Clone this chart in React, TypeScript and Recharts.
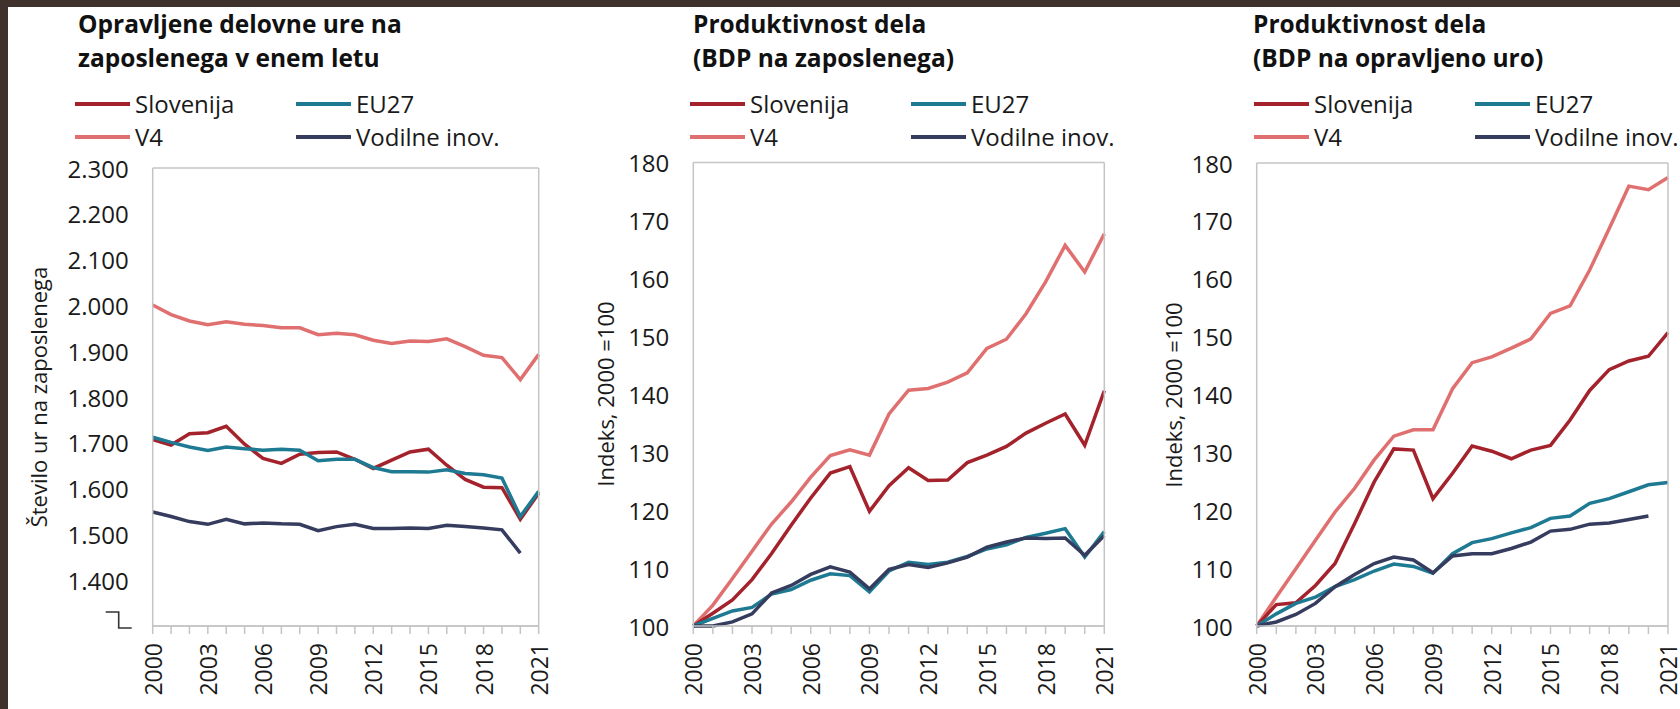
import React from 'react';
import { LineChart, Line, XAxis, YAxis, CartesianGrid } from 'recharts';

// years on the x axis
const years = [
  2000, 2001, 2002, 2003, 2004, 2005, 2006, 2007, 2008, 2009, 2010,
  2011, 2012, 2013, 2014, 2015, 2016, 2017, 2018, 2019, 2020, 2021,
];

// panel 1: opravljene ure na zaposlenega
const hoursSlovenija = [1707, 1695, 1720, 1722, 1736, 1697, 1666, 1655, 1675, 1679, 1680, 1664, 1644, 1662, 1680, 1686, 1651, 1620, 1603, 1602, 1533, 1590];
const hoursEU27 = [1712, 1701, 1691, 1683, 1691, 1687, 1684, 1686, 1684, 1661, 1664, 1664, 1646, 1637, 1637, 1636, 1641, 1633, 1630, 1623, 1539, 1594];
const hoursV4 = [2001, 1980, 1966, 1958, 1964, 1959, 1956, 1951, 1951, 1936, 1939, 1936, 1924, 1917, 1922, 1921, 1927, 1910, 1891, 1886, 1838, 1893];
const hoursLeaders = [1549, 1539, 1528, 1522, 1533, 1523, 1525, 1523, 1522, 1508, 1517, 1522, 1513, 1513, 1514, 1513, 1520, 1517, 1514, 1510, 1459, null];

// panel 2: BDP na zaposlenega, 2000 = 100
const perEmpSlovenija = [100, 102.2, 104.5, 108, 112.5, 117.4, 122.1, 126.4, 127.5, 119.8, 124.2, 127.3, 125.1, 125.2, 128.2, 129.5, 131, 133.3, 135, 136.6, 131.2, 140.6];
const perEmpEU27 = [100, 101.3, 102.6, 103.2, 105.5, 106.3, 107.9, 109, 108.7, 105.9, 109.5, 111, 110.6, 111, 112, 113.3, 114, 115.3, 116, 116.8, 111.9, 116.3];
const perEmpV4 = [100, 103.6, 108.2, 112.9, 117.6, 121.4, 125.7, 129.4, 130.4, 129.5, 136.6, 140.7, 141, 142.1, 143.7, 147.9, 149.5, 153.9, 159.4, 165.7, 161.1, 167.7];
const perEmpLeaders = [100, 100, 100.7, 102.1, 105.7, 107, 108.9, 110.2, 109.3, 106.4, 109.8, 110.6, 110.1, 110.9, 111.9, 113.6, 114.5, 115.2, 115.1, 115.2, 112.2, 115.6];

// panel 3: BDP na opravljeno uro, 2000 = 100
const perHourSlovenija = [100, 103.7, 104, 107, 110.8, 117.7, 124.9, 130.6, 130.4, 122, 126.4, 131.1, 130.2, 128.9, 130.4, 131.2, 135.6, 140.7, 144.3, 145.8, 146.6, 150.7];
const perHourEU27 = [100, 102.1, 103.9, 105, 106.8, 108, 109.5, 110.7, 110.3, 109.1, 112.5, 114.4, 115.1, 116.1, 117, 118.6, 119, 121.2, 122, 123.2, 124.4, 124.8];
const perHourV4 = [100, 105, 109.9, 114.8, 119.7, 123.8, 128.7, 132.8, 133.9, 133.9, 141, 145.5, 146.5, 148, 149.6, 154, 155.3, 161.5, 168.7, 176, 175.4, 177.5];
const perHourLeaders = [100, 100.7, 102, 103.9, 106.8, 108.9, 110.8, 111.9, 111.4, 109.2, 112.1, 112.5, 112.5, 113.4, 114.5, 116.4, 116.7, 117.6, 117.8, 118.4, 119, null];

const hoursTicks = [1300, 1400, 1500, 1600, 1700, 1800, 1900, 2000, 2100, 2200, 2300];
const indexTicks = [100, 110, 120, 130, 140, 150, 160, 170, 180];

const seriesNames = ['Slovenija', 'EU27', 'V4', 'Vodilne inov.'];
const seriesColors = ['#a3222b', '#1e7a92', '#e07070', '#363c5e'];
// order in which the lines are stacked on top of each other
const drawOrder = [2, 0, 1, 3];

const FONT = '"Open Sans", sans-serif';
const GRID = '#c4c4c4';
const TEXT = '#1a1a1a';
const PLOT_BOTTOM = 626;
const H = 709;

function buildRows(values: (number | null)[][]) {
  return years.map((year, i) => {
    const row: Record<string, number | null> = { year };
    values.forEach((v, s) => {
      row[`s${s}`] = v[i];
    });
    return row;
  });
}

const fmtThousands = (v: number) => {
  const s = String(v);
  return s.length > 3 ? `${s.slice(0, s.length - 3)}.${s.slice(s.length - 3)}` : s;
};

function YearTick(props: any) {
  const { x, y, payload } = props;
  if ((payload.value - 2000) % 3 !== 0) return null;
  return (
    <text
      x={x}
      y={y}
      transform={`rotate(-90, ${x}, ${y})`}
      textAnchor="end"
      dominantBaseline="central"
      fontFamily={FONT}
      fontSize={23}
      fill={TEXT}
    >
      {payload.value}
    </text>
  );
}

function makeValueTick(format: (v: number) => string, breakAt?: number) {
  return function ValueTick(props: any) {
    const { x, y, payload } = props;
    if (breakAt !== undefined && payload.value === breakAt) {
      return (
        <path
          d={`M${x - 23},${y - 14} H${x - 10} V${y + 2} H${x + 3}`}
          fill="none"
          stroke="#333"
          strokeWidth={1.6}
        />
      );
    }
    return (
      <text x={x} y={y} textAnchor="end" dominantBaseline="central" fontFamily={FONT} fontSize={24} fill={TEXT}>
        {format(payload.value)}
      </text>
    );
  };
}

function LegendGrid({ left }: { left: number }) {
  const order = [0, 1, 2, 3];
  return (
    <div
      style={{
        position: 'absolute',
        left,
        top: 87,
        display: 'grid',
        gridTemplateColumns: '221px 221px',
        fontFamily: FONT,
        fontSize: 24,
        color: TEXT,
      }}
    >
      {order.map(i => (
        <div key={i} style={{ display: 'flex', alignItems: 'center', height: 33, whiteSpace: 'nowrap' }}>
          <span style={{ display: 'inline-block', width: 55, height: 4, background: seriesColors[i], marginRight: 5 }} />
          <span>{seriesNames[i]}</span>
        </div>
      ))}
    </div>
  );
}

interface PanelProps {
  left: number;
  width: number;
  plotLeft: number;
  plotRight: number;
  plotTop: number;
  title: string[];
  titleLeft: number;
  legendLeft: number;
  yTitle: string;
  yTitleX: number;
  values: (number | null)[][];
  domain: [number, number];
  ticks: number[];
  format: (v: number) => string;
  breakAt?: number;
}

function Panel(p: PanelProps) {
  const rows = buildRows(p.values);
  const yAxisWidth = 60;
  const xAxisHeight = 70;
  const ValueTick = makeValueTick(p.format, p.breakAt);
  return (
    <div style={{ position: 'absolute', left: p.left, top: 0, width: p.width, height: H }}>
      <div
        style={{
          position: 'absolute',
          left: p.titleLeft,
          top: 7,
          fontFamily: FONT,
          fontWeight: 700,
          fontSize: 24.5,
          lineHeight: '34px',
          color: '#111',
          whiteSpace: 'nowrap',
        }}
      >
        {p.title.map(t => (
          <div key={t}>{t}</div>
        ))}
      </div>
      <LegendGrid left={p.legendLeft} />
      <div
        style={{
          position: 'absolute',
          left: p.yTitleX,
          top: (p.plotTop + PLOT_BOTTOM) / 2,
          transform: 'translate(-50%, -50%) rotate(-90deg)',
          fontFamily: FONT,
          fontSize: 22,
          color: TEXT,
          whiteSpace: 'nowrap',
        }}
      >
        {p.yTitle}
      </div>
      <div style={{ position: 'absolute', left: 0, top: 0 }}>
        <LineChart
          width={p.width}
          height={H}
          data={rows}
          margin={{
            top: p.plotTop,
            right: p.width - p.plotRight - 1,
            bottom: H - PLOT_BOTTOM - xAxisHeight,
            left: p.plotLeft - yAxisWidth,
          }}
        >
          <CartesianGrid vertical={false} stroke={GRID} strokeWidth={1.5} />
          <XAxis
            dataKey="year"
            type="number"
            domain={[2000, 2021]}
            ticks={years}
            interval={0}
            height={xAxisHeight}
            axisLine={{ stroke: GRID, strokeWidth: 1.5 }}
            tickLine={{ stroke: GRID, strokeWidth: 1.5 }}
            tickSize={8}
            tickMargin={9}
            tick={<YearTick />}
          />
          <YAxis
            yAxisId="left"
            domain={p.domain}
            ticks={p.ticks}
            interval={0}
            width={yAxisWidth}
            axisLine={{ stroke: GRID, strokeWidth: 1.5 }}
            tickLine={false}
            tickSize={0}
            tickMargin={24}
            tick={<ValueTick />}
          />
          <YAxis
            yAxisId="right"
            orientation="right"
            domain={p.domain}
            ticks={p.ticks}
            width={1}
            axisLine={{ stroke: GRID, strokeWidth: 1.5 }}
            tickLine={false}
            tick={false}
          />
          {drawOrder.map(i => (
            <Line
              key={i}
              yAxisId="left"
              type="linear"
              dataKey={`s${i}`}
              name={seriesNames[i]}
              stroke={seriesColors[i]}
              strokeWidth={3.5}
              dot={false}
              activeDot={false}
              connectNulls={false}
              isAnimationActive={false}
            />
          ))}
        </LineChart>
      </div>
    </div>
  );
}

export default function App() {
  return (
    <div style={{ position: 'absolute', left: 0, top: 0, width: 1680, height: H, background: '#3f312c', overflow: 'hidden' }}>
      <div style={{ position: 'absolute', left: 8, top: 7, width: 1672, height: H - 7, background: '#fff' }} />
      <Panel
        left={0}
        width={560}
        plotLeft={152.7}
        plotRight={538.7}
        plotTop={168}
        title={['Opravljene delovne ure na', 'zaposlenega v enem letu']}
        titleLeft={78}
        legendLeft={75}
        yTitle="Število ur na zaposlenega"
        yTitleX={38}
        values={[hoursSlovenija, hoursEU27, hoursV4, hoursLeaders]}
        domain={[1300, 2300]}
        ticks={hoursTicks}
        format={fmtThousands}
        breakAt={1300}
      />
      <Panel
        left={560}
        width={560}
        plotLeft={133.3}
        plotRight={544.3}
        plotTop={162.5}
        title={['Produktivnost dela', '(BDP na zaposlenega)']}
        titleLeft={133}
        legendLeft={130}
        yTitle="Indeks, 2000 =100"
        yTitleX={45}
        values={[perEmpSlovenija, perEmpEU27, perEmpV4, perEmpLeaders]}
        domain={[100, 180]}
        ticks={indexTicks}
        format={v => String(v)}
      />
      <Panel
        left={1120}
        width={560}
        plotLeft={136.7}
        plotRight={548}
        plotTop={163}
        title={['Produktivnost dela', '(BDP na opravljeno uro)']}
        titleLeft={133}
        legendLeft={134}
        yTitle="Indeks, 2000 =100"
        yTitleX={53}
        values={[perHourSlovenija, perHourEU27, perHourV4, perHourLeaders]}
        domain={[100, 180]}
        ticks={indexTicks}
        format={v => String(v)}
      />
    </div>
  );
}
